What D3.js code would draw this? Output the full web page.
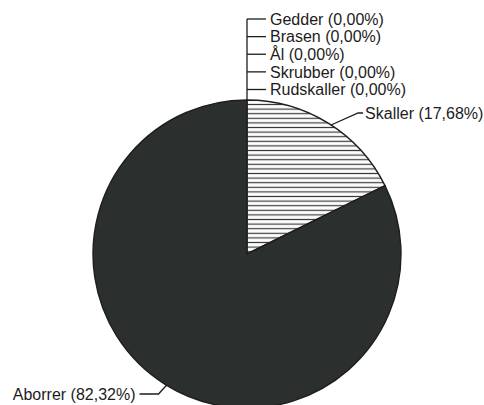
<!DOCTYPE html>
<html>
<head>
<meta charset="utf-8">
<script src="https://cdn.jsdelivr.net/npm/d3@7"></script>
<style>
  html, body { margin: 0; padding: 0; background: #fff; }
  svg { display: block; }
  text { font-family: "Liberation Sans", Arial, sans-serif; font-size: 16px; fill: #1c1c1c; }
</style>
</head>
<body>
<svg id="chart" width="484" height="405"></svg>
<script>
// Catch composition by species (share of catch, %)
const species = ["Gedder", "Brasen", "Ål", "Skrubber", "Rudskaller", "Skaller", "Aborrer"];
const shares  = [0, 0, 0, 0, 0, 17.68, 82.32];
const shareLabels = ["0,00%", "0,00%", "0,00%", "0,00%", "0,00%", "17,68%", "82,32%"];

const width = 484, height = 405;
const cx = 247, cy = 254, r = 154;

const svg = d3.select("#chart");
const defs = svg.append("defs");

// Horizontal line hatching for the Skaller slice
const pat = defs.append("pattern")
  .attr("id", "hatch")
  .attr("patternUnits", "userSpaceOnUse")
  .attr("width", 8).attr("height", 4.6);
pat.append("rect").attr("width", 8).attr("height", 4.6).attr("fill", "#fdfdfd");
pat.append("line").attr("x1", 0).attr("x2", 8).attr("y1", 2.3).attr("y2", 2.3)
  .attr("stroke", "#3a3a3a").attr("stroke-width", 1.2);

const data = species.map((s, i) => ({ name: s, value: shares[i], label: shareLabels[i] }));

const pie = d3.pie().sort(null).value(d => d.value);
const arcs = pie(data);
const arc = d3.arc().innerRadius(0).outerRadius(r);

const fills = { "Skaller": "url(#hatch)", "Aborrer": "#2b2f2d" };

const g = svg.append("g").attr("transform", `translate(${cx},${cy})`);

g.selectAll("path.slice")
  .data(arcs.filter(a => a.data.value > 0))
  .join("path")
  .attr("class", "slice")
  .attr("d", arc)
  .attr("fill", d => fills[d.data.name])
  .attr("stroke", "#1e1e1e")
  .attr("stroke-width", 1.4);

// Zero-value slices: stacked labels on a shared vertical leader from the pie top
const zeroArcs = arcs.filter(a => a.data.value === 0);
const labelY = d3.scaleLinear().domain([0, zeroArcs.length - 1]).range([19, 89.5]);
const ink = "#1c1c1c";

const topPt = d3.pointRadial(zeroArcs[0].startAngle, r);
g.append("line")
  .attr("x1", topPt[0]).attr("y1", topPt[1])
  .attr("x2", topPt[0]).attr("y2", labelY(0) - cy)
  .attr("stroke", ink).attr("stroke-width", 1.3);

zeroArcs.forEach((a, i) => {
  const y = labelY(i) - cy;
  g.append("line")
    .attr("x1", topPt[0]).attr("x2", topPt[0] + 19)
    .attr("y1", y).attr("y2", y)
    .attr("stroke", ink).attr("stroke-width", 1.3);
  g.append("text")
    .attr("x", topPt[0] + 23).attr("y", y)
    .attr("dy", "0.36em")
    .text(`${a.data.name} (${a.data.label})`);
});

// Leader for Skaller
const sk = arcs.find(a => a.data.name === "Skaller");
const skAng = sk.startAngle + (sk.endAngle - sk.startAngle) * 0.52;
const skP = d3.pointRadial(skAng, r);
const skY = 113 - cy;
g.append("polyline")
  .attr("points", [[skP[0], skP[1]], [skP[0] + 27, skY], [skP[0] + 32, skY]].map(p => p.join(",")).join(" "))
  .attr("fill", "none").attr("stroke", ink).attr("stroke-width", 1.3);
g.append("text")
  .attr("x", skP[0] + 34).attr("y", skY).attr("dy", "0.36em")
  .text(`${sk.data.name} (${sk.data.label})`);

// Leader for Aborrer
const ab = arcs.find(a => a.data.name === "Aborrer");
const abAng = Math.PI + 0.55;
const abP = d3.pointRadial(abAng, r);
const abY = 394 - cy;
g.append("polyline")
  .attr("points", [[abP[0], abP[1]], [abP[0] - 8, abY], [abP[0] - 27, abY]].map(p => p.join(",")).join(" "))
  .attr("fill", "none").attr("stroke", ink).attr("stroke-width", 1.3);
g.append("text")
  .attr("x", abP[0] - 31).attr("y", abY).attr("dy", "0.36em")
  .attr("text-anchor", "end")
  .text(`${ab.data.name} (${ab.data.label})`);
</script>
</body>
</html>
